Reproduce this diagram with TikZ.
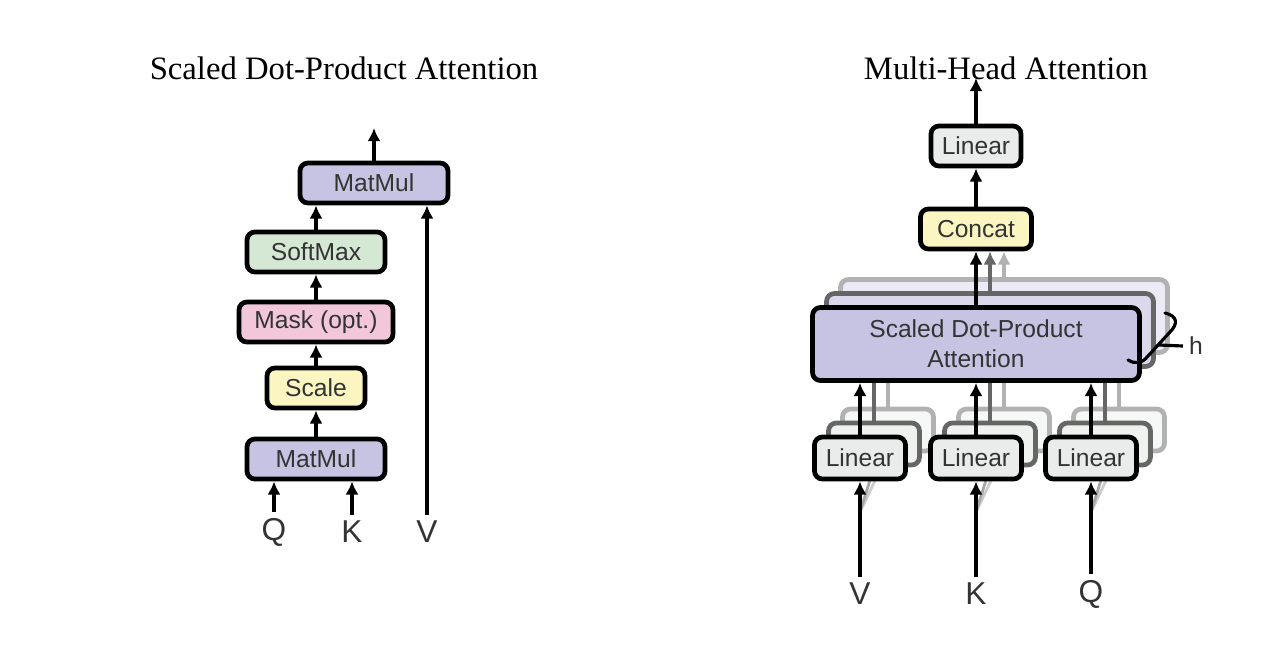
\documentclass[tikz,border=0pt]{standalone}
\usepackage{fontspec}
\setmainfont{Liberation Serif}
\setsansfont{Liberation Sans}
\usetikzlibrary{arrows.meta}
\definecolor{matmul}{RGB}{199,195,226}
\definecolor{softmax}{RGB}{213,232,212}
\definecolor{mask}{RGB}{243,199,218}
\definecolor{scale}{RGB}{251,246,193}
\definecolor{linear}{RGB}{233,236,234}

\begin{document}
\begin{tikzpicture}
[x=0.02cm, y=-0.02cm,
every node/.style={font=\sffamily\fontsize{14}{17}\selectfont, text=black!80},
box/.style={draw=black, line width=2.7pt, rounded corners=4.5pt, minimum height=0.8cm, inner sep=0pt, align=center},
arr/.style={line width=2.3pt, -{Latex[length=7.5pt,width=7.5pt]}},
title/.style={font=\rmfamily\fontsize{18.6}{22}\selectfont, text=black},
lbl/.style={font=\sffamily\fontsize{18}{20}\selectfont},
]
\useasboundingbox (0,0) rectangle (1286,654);

\node[title] (t1) at (344,68) {Scaled Dot-Product Attention};
\node[box, fill=matmul, minimum width=2.96cm] (mm2) at (374,183) {MatMul};
\node[box, fill=softmax, minimum width=2.76cm] (sm) at (316,252) {SoftMax};
\node[box, fill=mask, minimum width=3.08cm] (mask) at (316,322) {Mask (opt.)};
\node[box, fill=scale, minimum width=1.96cm] (sc) at (316,388) {Scale};
\node[box, fill=matmul, minimum width=2.76cm] (mm1) at (316,459) {MatMul};
\node[lbl] (q1) at (274,532) {Q};
\node[lbl] (k1) at (352,532) {K};
\node[lbl] (v1) at (427,532) {V};
\coordinate (o1) at (374,128);

\draw[arr] (q1.north) -- (q1.north |- mm1.south);
\draw[arr] (k1.north) -- (k1.north |- mm1.south);
\draw[arr] (mm1) -- (sc);
\draw[arr] (sc) -- (mask);
\draw[arr] (mask) -- (sm);
\draw[arr] (sm.north) -- (sm.north |- mm2.south);
\draw[arr] (v1.north) -- (v1.north |- mm2.south);
\draw[arr] (mm2) -- (o1);

\node[title] (t2) at (1006,68) {Multi-Head Attention};
\node[box, fill=linear, minimum width=1.8cm, minimum height=0.8cm] (lin) at (976,146) {Linear};
\node[box, fill=scale, minimum width=2.22cm, minimum height=0.8cm] (cat) at (976,229) {Concat};
\coordinate (o2) at (976,78);

\node[box, draw=black!30, fill=matmul!35, minimum width=6.54cm, minimum height=1.46cm] (att3) at (1004,316) {};
\node[box, draw=black!60, fill=matmul!65, minimum width=6.54cm, minimum height=1.46cm] (att2) at (990,330) {};

\foreach \n/\x/\l in {v/860/V, k/976/K, q/1091/Q} {
  \node[box, draw=black!30, fill=linear!40, minimum width=1.82cm, minimum height=0.84cm] (\n lin3) at (\x+28,430) {};
  \node[box, draw=black!60, fill=linear!70, minimum width=1.82cm, minimum height=0.84cm] (\n lin2) at (\x+14,444) {};
  \coordinate (\n in) at (\x,512);
  \draw[line width=1.6pt, black!20] (\n in) -- (\n lin3.south);
  \draw[line width=1.6pt, black!35] (\n in) -- (\n lin2.south);
  \draw[line width=2.3pt, black!30] (\n lin3.north) -- (\n lin3.north |- att3.south);
  \draw[line width=2.3pt, black!60] (\n lin2.north) -- (\n lin2.north |- att2.south);
  \node[box, fill=linear, minimum width=1.82cm, minimum height=0.84cm] (\n lin) at (\x,458) {Linear};
  \node[lbl] (\n) at (\x,594) {\l};
  \draw[arr] (\n.north) -- (\n lin.south);
}

\node[box, fill=matmul, minimum width=6.54cm, minimum height=1.46cm] (att) at (976,344) {Scaled Dot-Product\\Attention};

\foreach \n in {v,k,q}
  \draw[arr] (\n lin.north) -- (\n lin.north |- att.south);

\draw[arr, black!30] (att3.north) -- (att3.north |- cat.south);
\draw[arr, black!60] (att2.north) -- (att2.north |- cat.south);
\draw[arr] (att) -- (cat);
\draw[arr] (cat) -- (lin);
\draw[arr] (lin) -- (o2);

\draw[line width=1.8pt, line cap=round] (1165,313) .. controls (1178,316) and (1178,324) .. (1170,332) -- (1148,356) .. controls (1142,364) and (1134,364) .. (1128,360);
\node (h) at (1196,346) {h};
\coordinate (hb) at (1159,345);
\draw[line width=1.8pt] (hb) -- (h.west);
\end{tikzpicture}
\end{document}
